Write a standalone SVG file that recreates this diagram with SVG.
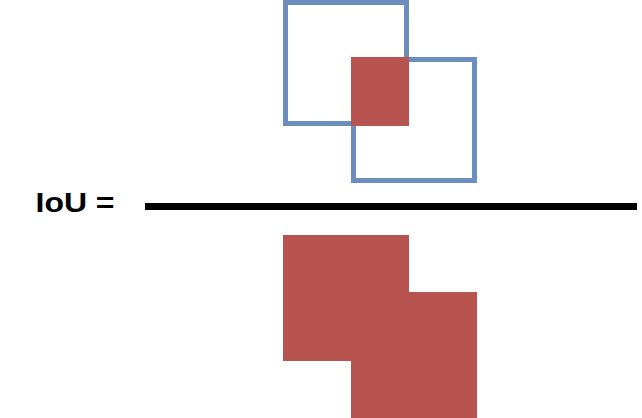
<svg xmlns="http://www.w3.org/2000/svg" width="642" height="418" viewBox="0 0 642 418">
<style>
.box{fill:none;stroke:#6c8ebf;stroke-width:5}
.red{fill:#b85450}
.lbl{font-family:"Liberation Sans",Arial,sans-serif;font-weight:bold;font-size:27px;fill:#000}
</style>
<rect width="642" height="418" fill="#fff"/>
<g id="box-a"><rect class="box" x="285.5" y="2.5" width="121" height="121"/></g>
<g id="box-b"><rect class="box" x="353.5" y="59.5" width="121" height="121"/></g>
<g id="intersection"><rect class="red" x="351" y="57" width="58" height="69"/></g>
<g id="label"><text class="lbl" x="35.5" y="212" textLength="79" lengthAdjust="spacingAndGlyphs">IoU =</text></g>
<g id="connectors"><line x1="145" y1="206.5" x2="637" y2="206.5" stroke="#000" stroke-width="7"/></g>
<g id="union">
<rect class="red" x="283" y="235" width="126" height="126"/>
<rect class="red" x="351" y="292" width="126" height="126"/>
</g>
</svg>
